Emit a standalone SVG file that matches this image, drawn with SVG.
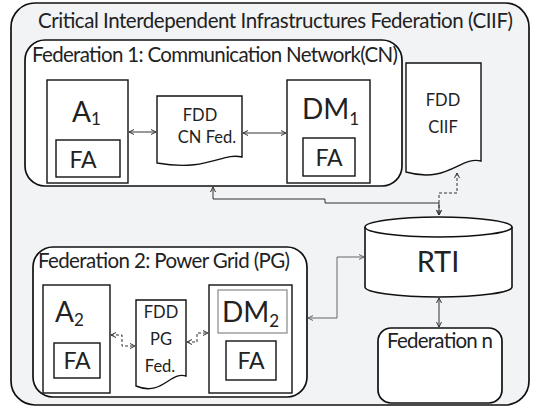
<svg xmlns="http://www.w3.org/2000/svg" width="541" height="409" viewBox="0 0 541 409">
  <defs>
    <marker id="tip" viewBox="0 0 6 6" refX="5.5" refY="3" markerWidth="6" markerHeight="6" markerUnits="userSpaceOnUse" orient="auto-start-reverse">
      <path d="M0.5,0.5 L5.5,3 L0.5,5.5" fill="none" stroke="#333" stroke-width="1"/>
    </marker>
    <marker id="tipg" viewBox="0 0 6 6" refX="5.5" refY="3" markerWidth="6" markerHeight="6" markerUnits="userSpaceOnUse" orient="auto-start-reverse">
      <path d="M0.5,0.5 L5.5,3 L0.5,5.5" fill="none" stroke="#666" stroke-width="1"/>
    </marker>
  </defs>
  <style>
    text { font-family: Lato, "Liberation Sans", sans-serif; fill: #222; }
    .box { fill: #fff; stroke: #111; stroke-width: 1.7; }
    .inner { fill: #fff; stroke: #111; stroke-width: 1.4; }
    .doc { fill: #fff; stroke: #111; stroke-width: 1.4; }
    .lbl { font-size: 20.5px; }
    .big { font-size: 28px; }
    .sub { font-size: 17px; }
    .fa { font-size: 23px; text-anchor: middle; }
    .dt { font-size: 16.5px; text-anchor: middle; }
    .wire { fill: none; stroke: #333; stroke-width: 1; marker-start: url(#tip); marker-end: url(#tip); }
    .gray { stroke: #666; marker-start: url(#tipg); marker-end: url(#tipg); }
    .dash { stroke-dasharray: 3 2; }
  </style>

  <rect x="0" y="0" width="541" height="409" fill="#fff"/>

  <!-- outer federation -->
  <g id="ciif">
    <rect x="11" y="3" width="518" height="402" rx="24" fill="#f2f3f5" stroke="#111" stroke-width="1.7"/>
    <text class="lbl" x="38" y="28" textLength="475">Critical Interdependent Infrastructures Federation (CIIF)</text>
  </g>

  <!-- federation 1 -->
  <g id="fed1">
    <rect class="box" x="25" y="40" width="377" height="146" rx="20"/>
    <text class="lbl" x="32" y="62" textLength="366">Federation 1: Communication Network(CN)</text>
  </g>
  <g id="a1">
    <rect class="inner" x="47" y="80" width="81" height="103"/>
    <text class="big" x="72" y="122">A<tspan class="sub" dy="3">1</tspan></text>
    <rect class="inner" x="56" y="140" width="64" height="37"/>
    <text class="fa" x="83" y="168">FA</text>
  </g>
  <g id="fdd-cn">
    <path class="doc" d="M157,96 H242 V157 C222,152 208,172 157,163 Z"/>
    <text class="dt" x="200" y="121">FDD</text>
    <text class="dt" x="207" y="143">CN Fed.</text>
  </g>
  <g id="dm1">
    <rect class="inner" x="287" y="80" width="83" height="103"/>
    <text class="big" x="302" y="119">DM<tspan class="sub" dy="6">1</tspan></text>
    <rect class="inner" x="303" y="138" width="52" height="38"/>
    <text class="fa" x="329" y="166">FA</text>
  </g>

  <!-- federation document of the whole federation -->
  <g id="fdd-ciif">
    <path class="doc" d="M406,63 H481 V161 C460,156 448,184 406,172 Z"/>
    <text class="dt" x="443" y="106">FDD</text>
    <text class="dt" x="443" y="133">CIIF</text>
  </g>

  <!-- run-time infrastructure -->
  <g id="rti">
    <path d="M365,227 V287 A73.5,10 0 0 0 512,287 V227" fill="#fff" stroke="#111" stroke-width="1.6"/>
    <ellipse cx="438.5" cy="227" rx="73.5" ry="10" fill="#fff" stroke="#111" stroke-width="1.6"/>
    <text x="438" y="272" font-size="29" text-anchor="middle">RTI</text>
  </g>

  <!-- federation 2 -->
  <g id="fed2">
    <rect class="box" x="33" y="247" width="274" height="150" rx="20"/>
    <text class="lbl" x="38" y="268" textLength="252">Federation 2: Power Grid (PG)</text>
  </g>
  <g id="a2">
    <rect class="inner" x="43" y="285" width="67" height="108"/>
    <text class="big" x="55" y="322">A<tspan class="sub" dy="4">2</tspan></text>
    <rect class="inner" x="54" y="343" width="46" height="35"/>
    <text class="fa" x="77" y="369">FA</text>
  </g>
  <g id="fdd-pg">
    <path class="doc" d="M136,300 H186 V376 C170,371 162,397 136,386 Z"/>
    <text class="dt" x="161" y="318">FDD</text>
    <text class="dt" x="161" y="345">PG</text>
    <text class="dt" x="160" y="372">Fed.</text>
  </g>
  <g id="dm2">
    <rect class="inner" x="209" y="285" width="83" height="108"/>
    <rect x="218" y="290" width="69" height="43" fill="#fff" stroke="#888" stroke-width="1.2"/>
    <text class="big" x="222" y="322">DM<tspan class="sub" dy="5">2</tspan></text>
    <rect class="inner" x="226" y="341" width="50" height="39"/>
    <text class="fa" x="251" y="369">FA</text>
  </g>

  <!-- federation n -->
  <g id="fedn">
    <rect class="box" x="378" y="328" width="124" height="75" rx="13"/>
    <text class="lbl" x="387" y="348" textLength="106">Federation n</text>
  </g>

  <!-- connectors -->
  <g id="connectors">
    <path class="wire" d="M129,132 H156"/>
    <path class="wire" d="M243,133 H286"/>
    <path class="wire" d="M213,187 V199 H325 V203 H439 V215"/>
    <path class="wire dash" d="M457,173 V193 H439 V215"/>
    <path class="wire gray" d="M364,257 H337 V318 H308"/>
    <path class="wire" d="M439,298 V327"/>
    <path class="wire dash" d="M111,335 H122 V346 H135"/>
    <path class="wire dash" d="M187,342 H197 V333 H208"/>
  </g>
</svg>
